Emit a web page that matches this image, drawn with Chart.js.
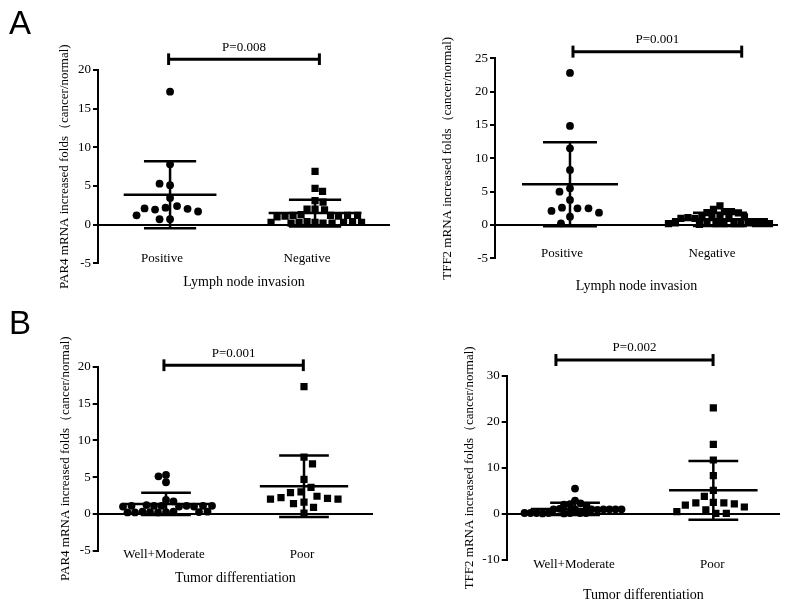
<!DOCTYPE html>
<html>
<head>
<meta charset="utf-8">
<script src="https://cdn.jsdelivr.net/npm/chart.js@4.4.0/dist/chart.umd.min.js"></script>
<style>
  body { margin: 0; background: #fff; }
  #wrap { position: relative; width: 800px; height: 610px; }
  .panel { position: absolute; width: 400px; height: 305px; }
  .tag { position: absolute; font: 33px "Liberation Sans", Arial, sans-serif; color: #000; line-height: 1; }
</style>
</head>
<body>
<div id="wrap">
  <div class="panel" style="left:0;top:0"><canvas id="c1"></canvas></div>
  <div class="panel" style="left:400px;top:0"><canvas id="c2"></canvas></div>
  <div class="panel" style="left:0;top:305px"><canvas id="c3"></canvas></div>
  <div class="panel" style="left:400px;top:305px"><canvas id="c4"></canvas></div>
  <div class="tag" style="left:9px;top:6px">A</div>
  <div class="tag" style="left:9px;top:306px">B</div>
</div>
<script>
// categories
var lymphGroups = ['Positive', 'Negative'];
var diffGroups = ['Well+Moderate', 'Poor'];

// y tick labels
var par4Ticks = [-5, 0, 5, 10, 15, 20];
var tff2LymphTicks = [-5, 0, 5, 10, 15, 20, 25];
var tff2DiffTicks = [-10, 0, 10, 20, 30];

// A: lymph node invasion
var par4Positive = [17.2, 7.8, 5.1, 5.3, 3.45, 2.2, 2.4, 1.95, 2.05, 2.1, 1.7, 1.2, 0.7, 0.7];
var par4Negative = [6.9, 4.7, 4.3, 3.1, 2.9, 2.0, 2.0, 1.9, 1.3, 0.3, 1.2, 0.4, 1.2, 0.2, 1.1, 0.3, 1.1, 0.3, 1.2, 0.2, 1.0, 0.4, 1.2, 0.3, 0.2, 0.3];
var par4LymphMean = [3.87, 1.5];
var par4LymphSD = [4.33, 1.73];

var tff2Positive = [22.8, 14.85, 11.5, 8.25, 5.5, 5.0, 3.75, 2.6, 2.5, 2.5, 2.1, 1.85, 1.25, 0.25];
var tff2Negative = [2.85, 2.35, 2.0, 2.0, 1.85, 1.8, 1.1, 0.2, 1.1, 0.2, 1.0, 0.3, 1.1, 0.2, 1.2, 0.2, 1.0, 0.3, 1.1, 0.2, 1.0, 0.2, 0.3, 0.2, 0.1, 0.2];
var tff2LymphMean = [6.1, 0.85];
var tff2LymphSD = [6.3, 1.0];

// B: tumor differentiation
var par4WellMod = [5.3, 5.1, 4.3, 1.9, 1.7, 1.1, 0.25, 1.1, 0.3, 1.0, 0.2, 1.2, 0.25, 1.1, 0.3, 1.0, 0.2, 1.1, 0.25, 1.1, 0.2, 1.0, 0.3, 1.1];
var par4Poor = [17.3, 7.7, 6.8, 4.7, 3.6, 3.0, 2.9, 2.4, 2.2, 2.1, 2.0, 2.0, 1.6, 1.4, 0.9, 0.1];
var par4DiffMean = [1.36, 3.77];
var par4DiffSD = [1.5, 4.18];

var tff2WellMod = [5.5, 2.9, 2.3, 2.1, 2.0, 1.8, 1.0, 0.2, 1.1, 0.2, 1.0, 0.1, 1.0, 0.2, 0.9, 0.2, 1.0, 0.1, 1.0, 0.2, 1.0, 0.2, 1.0, 0.2];
var tff2Poor = [23.0, 15.1, 11.7, 8.3, 5.1, 3.8, 2.5, 2.4, 2.4, 2.2, 1.9, 1.5, 0.9, 0.5, 0.1, 0.1];
var tff2DiffMean = [1.09, 5.13];
var tff2DiffSD = [1.31, 6.37];

var pValues = ['P=0.008', 'P=0.001', 'P=0.001', 'P=0.002'];

var serif = '"Liberation Serif", "Times New Roman", serif';

function seg(x1, y1, x2, y2, w) {
  return {
    data: [{x: x1, y: y1}, {x: x2, y: y2}],
    showLine: true, borderColor: '#000', borderWidth: w,
    pointRadius: 0, clip: false
  };
}

function errorBars(mean, sd) {
  var out = [];
  for (var i = 0; i < mean.length; i++) {
    var c = i + 1, m = mean[i], hi = m + sd[i], lo = m - sd[i];
    out.push(seg(c - 0.32, m, c + 0.32, m, 2.5));
    out.push(seg(c - 0.18, hi, c + 0.18, hi, 2.5));
    out.push(seg(c - 0.18, lo, c + 0.18, lo, 2.5));
    out.push(seg(c, lo, c, hi, 2.5));
  }
  return out;
}

function bracket(b) {
  return [
    seg(b.x1, b.y, b.x2, b.y, 3),
    seg(b.x1, b.y - b.cap, b.x1, b.y + b.cap, 3),
    seg(b.x2, b.y - b.cap, b.x2, b.y + b.cap, 3)
  ];
}

// P value over the bracket + group names sitting on the bottom of the axis
var labels = {
  id: 'labels',
  afterDatasetsDraw: function (chart, args, opts) {
    var xs = chart.scales.x, ys = chart.scales.y, ctx = chart.ctx;
    ctx.save();
    ctx.font = '13px ' + serif;
    ctx.fillStyle = '#000';
    ctx.textAlign = 'center';
    ctx.textBaseline = 'middle';
    ctx.fillText(opts.text, xs.getPixelForValue((opts.x1 + opts.x2) / 2), ys.getPixelForValue(opts.y) - 12);
    opts.groups.forEach(function (g, i) {
      ctx.fillText(g, xs.getPixelForValue(i + 1) + opts.dx, chart.chartArea.bottom + opts.dy);
    });
    ctx.restore();
  }
};

// simple beeswarm: push points sideways until they stop overlapping,
// going to whichever side has fewer neighbours at that height
function swarm(chart, groups, gaps) {
  var xs = chart.scales.x, ys = chart.scales.y;
  groups.forEach(function (vals, gi) {
    var cx = xs.getPixelForValue(gi + 1);
    var gap = gaps[gi];
    var placed = [];
    var free = function (t, py) {
      return placed.every(function (p) { return Math.hypot(p[0] - t, p[1] - py) >= gap; });
    };
    chart.data.datasets[gi].data = vals.map(function (v, i) {
      var py = ys.getPixelForValue(v), px = cx;
      var near = placed.filter(function (p) { return Math.abs(p[1] - py) < gap; });
      var nl = near.filter(function (p) { return p[0] < cx - 0.1; }).length;
      var nr = near.filter(function (p) { return p[0] > cx + 0.1; }).length;
      for (var m = 0; m < 200; m += 0.5) {
        var r = free(cx + m, py), l = m > 0 && free(cx - m, py);
        if (r && l) { px = nl < nr || (nl === nr && i % 2) ? cx - m : cx + m; break; }
        if (r) { px = cx + m; break; }
        if (l) { px = cx - m; break; }
      }
      placed.push([px, py]);
      return {x: xs.getValueForPixel(px), y: v};
    });
  });
  chart.update('none');
}

function makePanel(p) {
  var datasets = [
    {data: p.values[0].map(function (v) { return {x: 1, y: v}; }), pointStyle: 'circle', pointRadius: 3.9,
     pointBackgroundColor: '#000', pointBorderWidth: 0},
    {data: p.values[1].map(function (v) { return {x: 2, y: v}; }), pointStyle: 'rect', pointRadius: 5.1,
     pointBackgroundColor: '#000', pointBorderWidth: 0}
  ].concat(errorBars(p.mean, p.sd), bracket(p.bracket));

  var chart = new Chart(document.getElementById(p.id), {
    type: 'scatter',
    data: {datasets: datasets},
    options: {
      responsive: true,
      maintainAspectRatio: false,
      animation: false,
      events: [],
      layout: {padding: p.pad},
      plugins: {
        legend: {display: false},
        tooltip: {enabled: false},
        labels: {text: p.p, x1: p.bracket.x1, x2: p.bracket.x2, y: p.bracket.y,
                 groups: p.groups, dx: p.labelOff, dy: p.labelDy}
      },
      scales: {
        x: {
          type: 'linear', min: p.xRange[0], max: p.xRange[1],
          afterFit: function (s) { s.height = p.xH; },
          grid: {display: false},
          border: {display: false},
          ticks: {display: false},
          title: {display: true, text: p.xTitle, color: '#000', padding: 0, font: {family: serif, size: 14}}
        },
        y: {
          min: p.yTicks[0], max: p.yTicks[p.yTicks.length - 1],
          afterBuildTicks: function (s) { s.ticks = p.yTicks.map(function (v) { return {value: v}; }); },
          afterFit: function (s) { s.width = p.yW; },
          border: {display: true, color: '#000', width: 2},
          grid: {
            drawTicks: true, tickLength: 5, tickColor: '#000', tickWidth: 2, lineWidth: 2,
            color: function (c) { return c.tick && c.tick.value === 0 ? '#000' : 'rgba(0,0,0,0)'; }
          },
          ticks: {padding: 2, color: '#000', font: {family: serif, size: 13}},
          title: {display: true, text: p.yTitle, color: '#000', padding: 0, font: {family: serif, size: 13}}
        }
      }
    },
    plugins: [labels]
  });
  swarm(chart, p.values, p.gaps);
  return chart;
}

makePanel({
  id: 'c1', groups: lymphGroups, values: [par4Positive, par4Negative], mean: par4LymphMean, sd: par4LymphSD,
  yTicks: par4Ticks, p: pValues[0],
  yTitle: 'PAR4 mRNA increased folds（cancer/normal)', xTitle: 'Lymph node invasion',
  bracket: {x1: 0.99, x2: 2.03, y: 21.4, cap: 0.75},
  xRange: [0.503, 2.517], pad: {left: 57, top: 70, right: 10, bottom: 14.6}, yW: 41, xH: 27.1,
  labelDy: -4.3, labelOff: -8, gaps: [10.5, 7.8]
});
makePanel({
  id: 'c2', groups: lymphGroups, values: [tff2Positive, tff2Negative], mean: tff2LymphMean, sd: tff2LymphSD,
  yTicks: tff2LymphTicks, p: pValues[1],
  yTitle: 'TFF2 mRNA increased folds（cancer/normal)', xTitle: 'Lymph node invasion',
  bracket: {x1: 1.02, x2: 2.145, y: 26, cap: 0.9},
  xRange: [0.5, 2.387], pad: {left: 40, top: 58.3, right: 22, bottom: 9.9}, yW: 55, xH: 36.8,
  labelDy: -5, labelOff: -8, gaps: [11, 7]
});
makePanel({
  id: 'c3', groups: diffGroups, values: [par4WellMod, par4Poor], mean: par4DiffMean, sd: par4DiffSD,
  yTicks: par4Ticks, p: pValues[2],
  yTitle: 'PAR4 mRNA increased folds（cancer/normal)', xTitle: 'Tumor differentiation',
  bracket: {x1: 0.985, x2: 1.995, y: 20.2, cap: 0.8},
  xRange: [0.505, 2.5], pad: {left: 58, top: 61.7, right: 27, bottom: 23.3}, yW: 39.7, xH: 36,
  labelDy: 3.6, labelOff: -2, gaps: [7.3, 10.5]
});
makePanel({
  id: 'c4', groups: diffGroups, values: [tff2WellMod, tff2Poor], mean: tff2DiffMean, sd: tff2DiffSD,
  yTicks: tff2DiffTicks, p: pValues[3],
  yTitle: 'TFF2 mRNA increased folds（cancer/normal)', xTitle: 'Tumor differentiation',
  bracket: {x1: 0.862, x2: 1.998, y: 33.4, cap: 1.3},
  xRange: [0.506, 2.482], pad: {left: 62, top: 70.7, right: 20, bottom: 6.6}, yW: 44.7, xH: 43.4,
  labelDy: 5, labelOff: -1, gaps: [6, 10.5]
});
</script>
</body>
</html>
